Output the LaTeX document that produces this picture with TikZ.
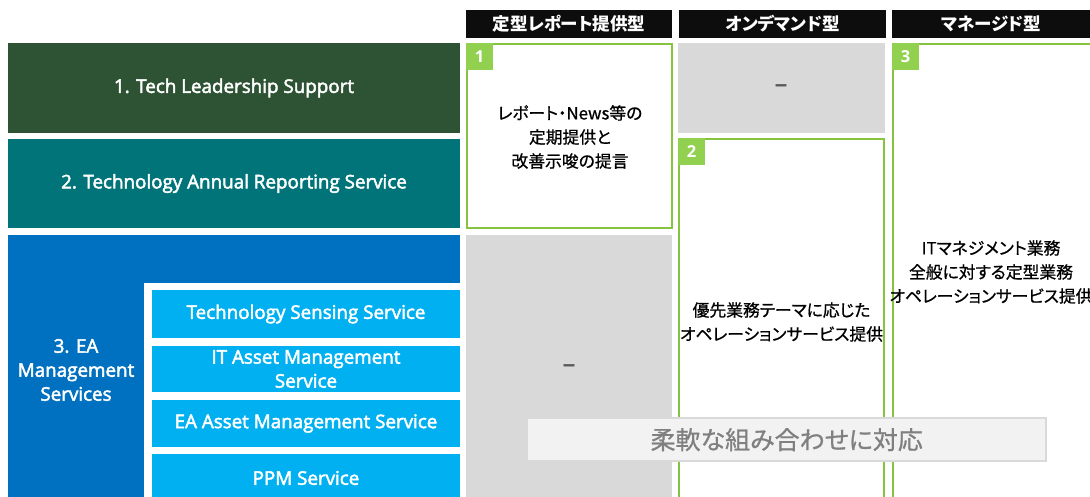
\documentclass[tikz,border=0pt]{standalone}
\usepackage{fontspec}
\setmainfont{Open Sans}
\newfontfamily\semibf{Open Sans}[FakeBold=2.5]
\newfontfamily\jp{Noto Sans CJK JP}[RawFeature=+palt]
\newfontfamily\jpm{Noto Sans CJK JP}[RawFeature=+palt, FakeBold=0.8]
\definecolor{dgreen}{HTML}{2D5234}
\definecolor{teal2}{HTML}{007479}
\definecolor{blue2}{HTML}{0070C0}
\definecolor{lblue}{HTML}{00B0F0}
\definecolor{hdr}{HTML}{0D0D0D}
\definecolor{lgreen}{HTML}{92D050}
\definecolor{bgreen}{HTML}{86C440}
\definecolor{gbox}{HTML}{D9D9D9}
\definecolor{dash}{HTML}{595959}
\definecolor{ovfill}{HTML}{F2F2F2}
\definecolor{ovtext}{HTML}{808080}
\begin{document}
\begin{tikzpicture}[x=1pt,y=-1pt,
  nw/.style={anchor=north west, inner sep=0pt, outer sep=0pt},
  leftbox/.style={nw, text=white, align=center, font=\semibf\fontsize{18.8}{24}\selectfont},
  subbox/.style={leftbox, fill=lblue, minimum width=308pt},
  hdrbox/.style={nw, fill=hdr, text=white, minimum height=28pt, font=\jp\bfseries\fontsize{17.5}{20}\selectfont},
  graybox/.style={nw, fill=gbox},
  tag/.style={nw, fill=lgreen, minimum width=27pt, minimum height=27pt, text=white, font=\bfseries\fontsize{16.5}{20}\selectfont},
  jptext/.style={align=center, font=\jpm\fontsize{16.8}{24}\selectfont, inner sep=0pt},
  dashtxt/.style={text=dash, font=\semibf\fontsize{24}{24}\selectfont, inner sep=0pt},
  gborder/.style={draw=bgreen, line width=2.2pt}
]
\useasboundingbox (0,0) rectangle (1090,497);
\clip (0,0) rectangle (1090,497);
\fill[white] (0,0) rectangle (1090,497);

% left column
\node[leftbox, fill=dgreen, minimum width=452pt, minimum height=90pt] (l1) at (8,43) {1. Tech Leadership Support};
\node[leftbox, fill=teal2, minimum width=452pt, minimum height=89pt] (l2) at (8,139) {2. Technology Annual Reporting Service};
\node[nw, fill=blue2, minimum width=452pt, minimum height=280pt] (l3) at (8,235) {};
\fill[white] (144,283) rectangle (460,520);
\node[leftbox, anchor=center] (l3t) at (76,370) {3. EA\\Management\\Services};
\node[subbox, minimum height=48pt] (s1) at (152,290) {Technology Sensing Service};
\node[subbox, minimum height=46pt] (s2) at (152,346) {IT Asset Management\\Service};
\node[subbox, minimum height=47pt] (s3) at (152,400) {EA Asset Management Service};
\node[subbox, minimum height=48pt] (s4) at (152,454) {PPM Service};

% headers
\node[hdrbox, minimum width=206pt] (h1) at (466,10) {定型レポート提供型};
\node[hdrbox, minimum width=207pt] (h2) at (679,10) {オンデマンド型};
\node[hdrbox, minimum width=198pt] (h3) at (892,10) {マネージド型};

% column 1
\node[nw, gborder, minimum width=205pt, minimum height=184pt] (b1) at (467.1,44.1) {};
\node[tag] (t1) at (466,43) {1};
\node[jptext] (b1t) at (570,137) {レポート・News等の\\定期提供と\\改善示唆の提言};
\node[graybox, minimum width=206pt, minimum height=280pt] (g1) at (466,235) {};
\node[dashtxt] (d1) at (569,368) {–};

% column 2
\node[graybox, minimum width=207pt, minimum height=90pt] (g2) at (678,43) {};
\node[dashtxt] (d2) at (781,88) {–};
\node[nw, gborder, minimum width=205pt, minimum height=380pt] (b2) at (679.1,139.1) {};
\node[tag] (t2) at (678,138) {2};
\node[jptext] (b2t) at (781.5,322) {優先業務テーマに応じた\\オペレーションサービス提供};

% column 3
\node[nw, gborder, minimum width=210pt, minimum height=480pt] (b3) at (893.1,44.1) {};
\node[tag] (t3) at (892,43) {3};
\node[jptext] (b3t) at (991,272) {ITマネジメント業務\\全般に対する定型業務\\オペレーションサービス提供};

% overlay
\node[nw, fill=ovfill, draw=gbox, line width=2.5pt, minimum width=519pt, minimum height=43pt, text=ovtext, font=\jpm\fontsize{25}{28}\selectfont] (ov) at (527.2,418.2) {柔軟な組み合わせに対応};
\end{tikzpicture}
\end{document}
